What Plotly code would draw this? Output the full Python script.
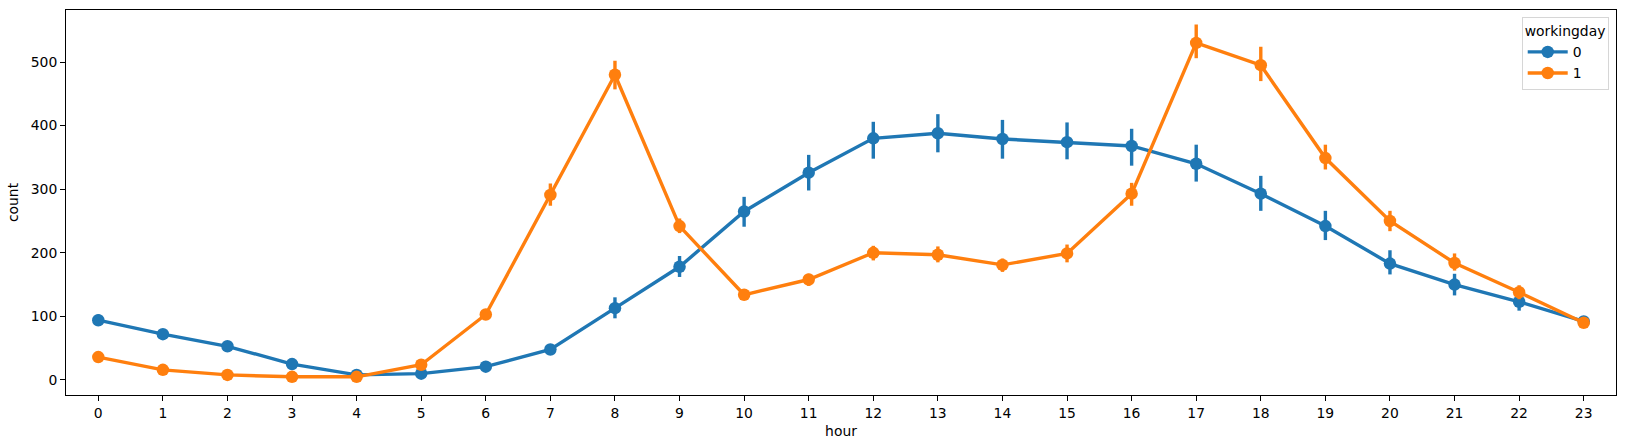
import plotly.graph_objects as go

hours = list(range(24))
hour_labels = [str(h) for h in hours]

# workingday = 0
mean0 = [94, 72, 53, 25, 8, 10, 21, 48, 113, 178, 265, 326, 380, 388, 379, 374, 368, 340, 293, 242, 183, 150, 123, 92]
lo0 = [88, 68, 49, 22, 7, 8, 18, 41, 97, 162, 241, 298, 348, 358, 348, 347, 337, 312, 266, 220, 166, 133, 109, 86]
hi0 = [103, 76, 57, 29, 10, 12, 24, 55, 130, 195, 288, 354, 406, 418, 409, 405, 395, 370, 321, 266, 204, 167, 135, 98]

# workingday = 1
mean1 = [36, 16, 8, 5, 5, 24, 103, 291, 480, 242, 134, 158, 200, 197, 181, 199, 293, 530, 495, 349, 250, 184, 138, 90]
lo1 = [33, 14, 7, 4, 4, 21, 98, 274, 457, 231, 129, 148, 188, 185, 170, 185, 274, 506, 470, 331, 234, 172, 127, 85]
hi1 = [39, 18, 9, 6, 6, 27, 108, 309, 502, 254, 139, 167, 211, 210, 191, 213, 310, 559, 524, 370, 266, 199, 149, 95]

colors = ["#1f77b4", "#ff7f0e"]
series = [("0", mean0, lo0, hi0), ("1", mean1, lo1, hi1)]

fig = go.Figure()
for (name, m, lo, hi), c in zip(series, colors):
    fig.add_trace(go.Scatter(
        x=hours, y=m, name=name, mode="lines+markers",
        line=dict(color=c, width=3.4),
        marker=dict(color=c, size=12.5),
        error_y=dict(type="data", symmetric=False,
                     array=[h - v for h, v in zip(hi, m)],
                     arrayminus=[v - l for v, l in zip(m, lo)],
                     color=c, thickness=3.4, width=0),
    ))

FS = 13.9
axis_common = dict(showline=True, linecolor="black", linewidth=1, mirror=True,
                   ticks="outside", ticklen=5, tickcolor="black", showgrid=False,
                   zeroline=False, automargin=False,
                   tickfont=dict(family="DejaVu Sans", size=FS, color="black"))

fig.update_layout(
    width=1625, height=448,
    margin=dict(l=66, r=9, t=10, b=53),
    paper_bgcolor="white", plot_bgcolor="white",
    font=dict(family="DejaVu Sans", size=FS, color="black"),
    xaxis=dict(range=[-0.5, 23.5], tickmode="array", tickvals=hours, ticktext=hour_labels,
               title=dict(text="hour", font=dict(size=FS), standoff=6), **axis_common),
    yaxis=dict(range=[-23.6, 581.8], tickvals=[0, 100, 200, 300, 400, 500],
               title=dict(text="count", font=dict(size=FS), standoff=8), **axis_common),
    legend=dict(title=dict(text="workingday", font=dict(size=FS)),
                x=0.9953, y=0.981, xanchor="right", yanchor="top",
                bordercolor="#d6d6d6", borderwidth=1, bgcolor="rgba(255,255,255,0.8)",
                font=dict(size=FS), itemwidth=40),
)

fig.write_html("out.html", config={"displayModeBar": False},
               post_script="document.body.style.margin='0';")
